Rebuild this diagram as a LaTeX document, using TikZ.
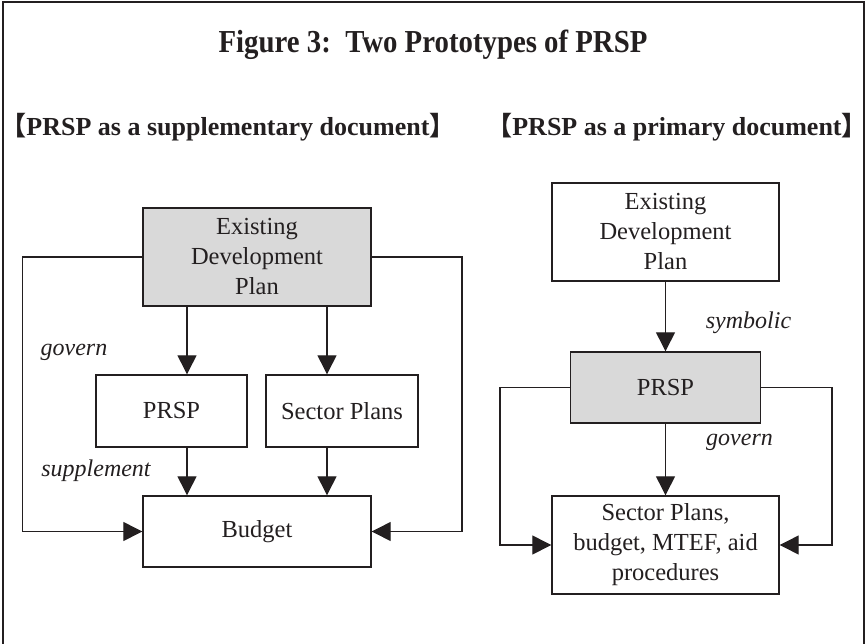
\documentclass[tikz,border=0pt]{standalone}
\usepackage{fontspec}
\setmainfont{Liberation Serif}
\newfontfamily\cjk{Noto Sans CJK JP}
\usetikzlibrary{arrows.meta}
\definecolor{ink}{RGB}{35,31,32}
\definecolor{shade}{RGB}{217,217,217}

\begin{document}
\begin{tikzpicture}[x=1pt,y=-1pt,>={Triangle[length=19pt,width=19pt]},
  box/.style={draw=ink,line width=1.4pt,align=center,inner sep=0pt,text=ink,font=\fontsize{24.5}{30}\selectfont},
  link/.style={draw=ink,line width=1.3pt},
  lbl/.style={text=ink,inner sep=0pt,font=\fontsize{24}{30}\selectfont\itshape},
  head/.style={text=ink,inner sep=0pt,anchor=base,font=\fontsize{26}{30}\selectfont\bfseries}]
\useasboundingbox (0,0) rectangle (866,644);
\draw[ink,line width=1.5pt] (3,650) -- (3,2) -- (864,2) -- (864,650);
\node[head,font=\fontsize{32}{36}\selectfont\bfseries] (title) at (433,53) {\scalebox{0.9}[1]{Figure 3:\ \ Two Prototypes of PRSP}};
\node[head] (subL) at (228,136) {{\cjk 【}PRSP as a supplementary document{\cjk 】}};
\node[head] (subR) at (677,136) {{\cjk 【}PRSP as a primary document{\cjk 】}};
\node[box,fill=shade,minimum width=228pt,minimum height=98pt] (edpL) at (257,257) {Existing\\Development\\Plan};
\node[box,minimum width=151pt,minimum height=72pt] (prspL) at (171.5,411) {PRSP};
\node[box,minimum width=152pt,minimum height=72pt] (secL) at (342,411) {Sector Plans};
\node[box,minimum width=228pt,minimum height=71pt] (budL) at (257,531.5) {Budget};
\coordinate (aL) at (187,0);
\coordinate (bL) at (327,0);
\coordinate (cornL) at (22.7,257);
\coordinate (cornR) at (462,257);
\draw[link,->] (edpL.south -| aL) -- (prspL.north -| aL);
\draw[link,->] (edpL.south -| bL) -- (secL.north -| bL);
\draw[link,->] (prspL.south -| aL) -- (budL.north -| aL);
\draw[link,->] (secL.south -| bL) -- (budL.north -| bL);
\draw[link,->] (edpL.west) -- (cornL) |- (budL.west);
\draw[link,->] (edpL.east) -- (cornR) |- (budL.east);
\node[lbl] (govL) at (74,352) {govern};
\node[lbl] (supL) at (96,471) {supplement};
\node[box,minimum width=227pt,minimum height=98pt] (edpR) at (665.5,232) {Existing\\Development\\Plan};
\node[box,fill=shade,minimum width=190pt,minimum height=71pt] (prspR) at (665.5,387.5) {PRSP};
\node[box,minimum width=227pt,minimum height=98pt] (bigR) at (665.5,545) {Sector Plans,\\budget, MTEF, aid\\procedures};
\coordinate (cornA) at (500,387.5);
\coordinate (cornB) at (832,387.5);
\draw[link,->] (edpR) -- (prspR);
\draw[link,->] (prspR) -- (bigR);
\draw[link,->] (prspR.west) -- (cornA) |- (bigR.west);
\draw[link,->] (prspR.east) -- (cornB) |- (bigR.east);
\node[lbl] (symR) at (748.5,323) {symbolic};
\node[lbl] (govR) at (739.5,442) {govern};
\end{tikzpicture}
\end{document}
